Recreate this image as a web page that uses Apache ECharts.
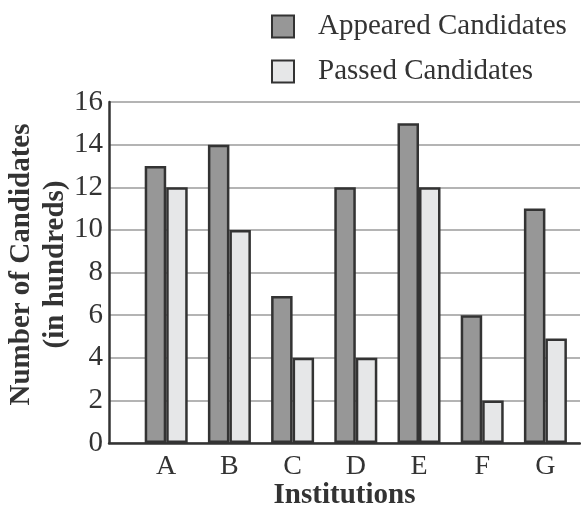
<!DOCTYPE html>
<html><head><meta charset="utf-8">
<script src="https://cdn.jsdelivr.net/npm/echarts@6/dist/echarts.min.js"></script>
<style>html,body{margin:0;padding:0;background:#fff}#c{width:581px;height:514px}</style>
</head><body><div id="c"></div>
<script>
const categories = ['A','B','C','D','E','F','G'];
const appeared = [13, 14, 6.9, 12, 15, 6, 11];
const passed = [12, 10, 4, 4, 12, 2, 4.9];
const yTicks = {min: 0, max: 16, interval: 2};

const font = '"Liberation Serif", "Times New Roman", serif';
const chart = echarts.init(document.getElementById('c'));
chart.setOption({
  animation: false,
  textStyle: {fontFamily: font},
  legend: {
    orient: 'vertical', left: 266, top: 7, itemGap: 16,
    itemWidth: 22, itemHeight: 22, icon: 'rect',
    textStyle: {fontFamily: font, fontSize: 29, lineHeight: 29, color: '#333', padding: [0,0,0,19]},
    data: ['Appeared Candidates', 'Passed Candidates']
  },
  grid: [
    {left: 109, right: 1, top: 102, bottom: 71, outerBoundsMode: 'none', containLabel: false},
    {left: 134.6, right: 4, top: 102, bottom: 71, outerBoundsMode: 'none', containLabel: false}
  ],
  xAxis: [
    {gridIndex: 0, type: 'category', data: categories, axisLabel: {show: false}, axisTick: {show: false},
     axisLine: {lineStyle: {color: '#333', width: 2.5}},
     name: 'Institutions', nameLocation: 'middle', nameGap: 38, nameMoveOverlap: false,
     nameTextStyle: {fontFamily: font, fontSize: 29, fontWeight: 'bold', color: '#333'}},
    {gridIndex: 1, type: 'category', data: categories, axisTick: {show: false}, axisLine: {show: false},
     axisLabel: {fontFamily: font, fontSize: 28, color: '#333', margin: 10}}
  ],
  yAxis: [
    {gridIndex: 0, type: 'value', min: yTicks.min, max: yTicks.max, interval: yTicks.interval,
     axisLine: {show: true, lineStyle: {color: '#333', width: 2.5}}, axisTick: {show: false},
     splitLine: {lineStyle: {color: '#b4b4b4', width: 2}},
     axisLabel: {fontFamily: font, fontSize: 29, color: '#333', margin: 6},
     name: 'Number of Candidates\n(in hundreds)', nameLocation: 'middle', nameRotate: 90, nameGap: 36,
     nameMoveOverlap: false,
     nameTextStyle: {fontFamily: font, fontSize: 29, fontWeight: 'bold', color: '#333', lineHeight: 34, padding: [0,0,0,16]}},
    {gridIndex: 1, type: 'value', min: yTicks.min, max: yTicks.max, interval: yTicks.interval, show: false}
  ],
  series: [
    {name: 'Appeared Candidates', type: 'bar', xAxisIndex: 1, yAxisIndex: 1, data: appeared,
     barWidth: 21.5, barGap: '0%',
     itemStyle: {color: '#979797', borderColor: '#333', borderWidth: 2.5}},
    {name: 'Passed Candidates', type: 'bar', xAxisIndex: 1, yAxisIndex: 1, data: passed,
     barWidth: 21.5, barGap: '0%',
     itemStyle: {color: '#e6e7e8', borderColor: '#333', borderWidth: 2.5}}
  ]
});
</script></body></html>
